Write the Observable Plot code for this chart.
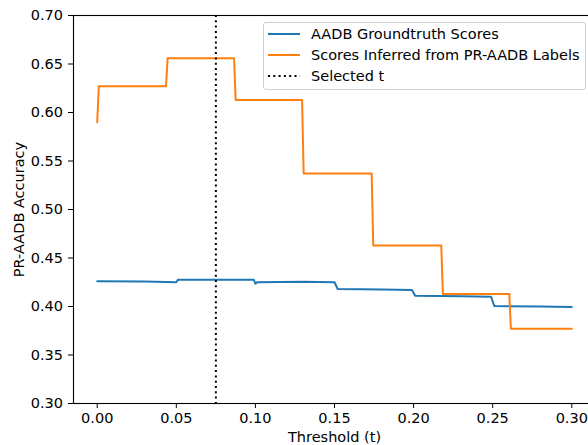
<!DOCTYPE html>
<html>
<head>
<meta charset="utf-8">
<script src="https://cdn.jsdelivr.net/npm/d3@7"></script>
<script src="https://cdn.jsdelivr.net/npm/@observablehq/plot@0.6"></script>
<style>
  html, body { margin: 0; padding: 0; background: #fff; overflow: hidden; }
  #wrap { position: relative; width: 588px; height: 445px; overflow: hidden; font-family: "DejaVu Sans", sans-serif; }
  #wrap > svg { max-width: none !important; display: block; }
  #legend { position: absolute; left: 263px; top: 22px; width: 323px; height: 68px; border: 1px solid #d0d0d0; border-radius: 3px; background: rgba(255,255,255,0.8); box-sizing: border-box; }
  .item { position: absolute; left: 4px; height: 20px; display: flex; align-items: center; font-size: 14.5px; color: #000; white-space: nowrap; }
  .item svg { margin-right: 11px; }
</style>
</head>
<body>
<div id="wrap"></div>
<script>
// Data
const threshOrange = [0, 0.001, 0.0435, 0.0445, 0.0865, 0.0875, 0.1295, 0.1305, 0.1735, 0.1745, 0.2175, 0.2185, 0.2605, 0.2615, 0.30];
const accOrange    = [0.590, 0.627, 0.627, 0.656, 0.656, 0.613, 0.613, 0.537, 0.537, 0.463, 0.463, 0.413, 0.413, 0.377, 0.377];
const threshBlue = [0, 0.03, 0.05, 0.051, 0.075, 0.099, 0.100, 0.101, 0.13, 0.15, 0.152, 0.18, 0.199, 0.201, 0.23, 0.249, 0.251, 0.28, 0.30];
const accBlue    = [0.426, 0.4258, 0.425, 0.4275, 0.4277, 0.4275, 0.4235, 0.425, 0.4255, 0.425, 0.418, 0.4175, 0.417, 0.411, 0.4105, 0.410, 0.4005, 0.400, 0.3995];
const selectedT = 0.075;
const xTicks = [0, 0.05, 0.10, 0.15, 0.20, 0.25, 0.30];
const yTicks = [0.30, 0.35, 0.40, 0.45, 0.50, 0.55, 0.60, 0.65, 0.70];
const seriesNames = ["AADB Groundtruth Scores", "Scores Inferred from PR-AADB Labels", "Selected t"];
const seriesColors = ["#1f77b4", "#ff7f0e", "#000000"];

const blue = threshBlue.map((t, i) => ({t, a: accBlue[i]}));
const orange = threshOrange.map((t, i) => ({t, a: accOrange[i]}));

const chart = Plot.plot({
  width: 595,
  height: 445,
  marginLeft: 73,
  marginRight: 0,
  marginTop: 15,
  marginBottom: 42,
  style: { fontFamily: "DejaVu Sans, sans-serif", fontSize: "14.5px", color: "#000", background: "#fff", overflow: "visible", maxWidth: "none" },
  x: { domain: [-0.015, 0.315] },
  y: { domain: [0.30, 0.70] },
  marks: [
    Plot.line(blue, { x: "t", y: "a", stroke: seriesColors[0], strokeWidth: 2 }),
    Plot.line(orange, { x: "t", y: "a", stroke: seriesColors[1], strokeWidth: 2 }),
    Plot.ruleX([selectedT], { stroke: seriesColors[2], strokeWidth: 2, strokeDasharray: "2,3.3" }),
    Plot.frame({ stroke: "#000", strokeWidth: 1.1 }),
    Plot.axisX(xTicks, { tickFormat: d3.format(".2f"), tickSize: 5, tickPadding: 4, fontSize: 14.5, label: "Threshold (t)", labelAnchor: "center", labelArrow: "none", labelOffset: 38 }),
    Plot.axisY(yTicks, { tickFormat: d3.format(".2f"), tickSize: 5, tickPadding: 5.5, fontSize: 14.5, label: "PR-AADB Accuracy", labelAnchor: "center", labelArrow: "none", labelOffset: 60 })
  ]
});

const wrap = document.getElementById("wrap");
wrap.appendChild(chart);

const legend = document.createElement("div");
legend.id = "legend";
const tops = [1, 22, 43];
seriesNames.forEach((name, i) => {
  const item = document.createElement("div");
  item.className = "item";
  item.style.top = tops[i] + "px";
  const dash = i === 2 ? 'stroke-dasharray="2,3.3"' : "";
  item.innerHTML = `<svg width="32" height="6"><line x1="0" y1="3" x2="32" y2="3" stroke="${seriesColors[i]}" stroke-width="2" ${dash}/></svg><span>${name}</span>`;
  legend.appendChild(item);
});
wrap.appendChild(legend);
</script>
</body>
</html>
